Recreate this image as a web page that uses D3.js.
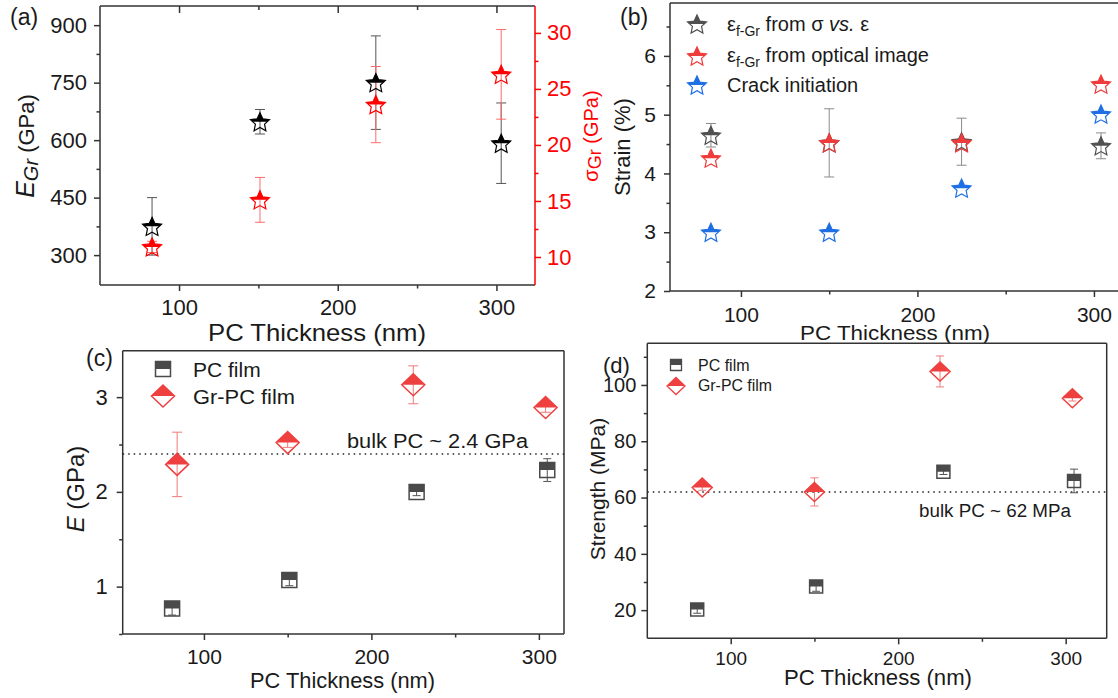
<!DOCTYPE html>
<html>
<head>
<meta charset="utf-8">
<script src="https://cdn.jsdelivr.net/npm/d3@7"></script>
<style>
  body { margin: 0; background: #fff; }
  svg { display: block; font-family: "Liberation Sans", Arial, sans-serif; }
</style>
</head>
<body>
<svg id="fig" width="1118" height="698"></svg>
<script>
// ---- data ----
// (a) graphene modulus / strength vs PC thickness
var thickA = [83, 151, 224, 303];
var eGr = [375, 648, 750, 592];
var eGrErr = [75, 32, 122, 105];
var sigmaGr = [10.9, 15.1, 23.6, 26.3];
var sigmaGrErr = [0.5, 2.0, 3.4, 4.0];

// (b) strain
var thickB = [83, 150, 225, 304];
var strainSigma = [4.65, 4.52, 4.54, 4.47];
var strainSigmaErr = [0.2, 0.58, 0.4, 0.22];
var strainOptical = [4.26, 4.52, 4.52, 5.52];
var crackInit = [3.0, 3.0, 3.75, 5.01];

// (c) modulus of films
var thickPC = [81, 151, 227, 305];
var thickGr = [84, 150, 225, 304];
var pcModulus = [0.77, 1.07, 2.0, 2.23];
var pcModulusErr = [0.07, 0.06, 0.04, 0.12];
var grModulus = [2.29, 2.52, 3.13, 2.89];
var grModulusErr = [0.34, 0.05, 0.2, 0.05];
var bulkModulus = 2.4;

// (d) strength of films
var thickPCd = [80, 151, 227, 305];
var thickGrd = [83, 150, 225, 304];
var pcStrength = [20.2, 28.4, 69.2, 65.9];
var pcStrengthErr = [1.3, 1.7, 1.0, 4.2];
var grStrength = [63.6, 62.0, 104.8, 95.3];
var grStrengthErr = [1.0, 5.0, 5.5, 1.0];
var bulkStrength = 62;

var frameColor = "#333";
var textColor = "#1a1a1a";

var svg = d3.select("#fig");
var defs = svg.append("defs");
// clip for the filled upper half of a marker (in marker local coords)
defs.append("clipPath").attr("id", "tophalf")
  .append("rect").attr("x", -40).attr("y", -40).attr("width", 80).attr("height", 40);

function starPath(R) {
  var pts = [];
  var off = R * 0.095; // center the bbox
  for (var i = 0; i < 10; i++) {
    var a = -Math.PI / 2 + i * Math.PI / 5;
    var rr = (i % 2) ? R * 0.48 : R;
    pts.push([rr * Math.cos(a), rr * Math.sin(a) + off]);
  }
  return "M" + pts.join("L") + "Z";
}
function squarePath(s) {
  return "M" + (-s) + "," + (-s) + "H" + s + "V" + s + "H" + (-s) + "Z";
}
function diamondPath(w, h) {
  return "M0," + (-h) + "L" + w + ",0L0," + h + "L" + (-w) + ",0Z";
}

function halfMarker(g, d, cx, cy, color, sw) {
  var m = g.append("g").attr("transform", "translate(" + cx + "," + cy + ")");
  m.append("path").attr("d", d).attr("fill", color).attr("clip-path", "url(#tophalf)");
  m.append("path").attr("d", d).attr("fill", "none").attr("stroke", color).attr("stroke-width", sw);
}

function errBars(g, xs, ys, es, x, y, color, cap) {
  xs.forEach(function(xv, i) {
    if (!es[i]) return;
    var cx = x(xv), y1 = y(ys[i] - es[i]), y2 = y(ys[i] + es[i]);
    g.append("line").attr("x1", cx).attr("x2", cx).attr("y1", y1).attr("y2", y2)
      .attr("stroke", color).attr("stroke-width", 1);
    [y1, y2].forEach(function(yy) {
      g.append("line").attr("x1", cx - cap).attr("x2", cx + cap).attr("y1", yy).attr("y2", yy)
        .attr("stroke", color).attr("stroke-width", 1);
    });
  });
}

function styleAxis(sel, color, fs) {
  sel.select(".domain").remove();
  sel.selectAll(".tick line").attr("stroke", color).attr("stroke-width", 1.5);
  sel.selectAll(".tick text").attr("fill", color === frameColor ? textColor : color)
    .attr("font-size", fs).attr("font-family", "Liberation Sans, Arial, sans-serif");
}

// generic panel: frame, bottom + left axes with minor ticks
function makePanel(p) {
  var x = d3.scaleLinear().domain(p.xd).range([p.l, p.r]);
  var y = d3.scaleLinear().domain(p.yd).range([p.b, p.t]);
  var g = svg.append("g");

  var xa = g.append("g").attr("transform", "translate(0," + p.b + ")")
    .call(d3.axisBottom(x).tickValues(p.xt).tickSize(6).tickPadding(p.xpad).tickFormat(d3.format("d")));
  styleAxis(xa, frameColor, p.xfs);
  var xm = g.append("g").attr("transform", "translate(0," + p.b + ")")
    .call(d3.axisBottom(x).tickValues(p.xm).tickSize(3.5).tickFormat(""));
  styleAxis(xm, frameColor, p.xfs);

  var ya = g.append("g").attr("transform", "translate(" + p.l + ",0)")
    .call(d3.axisLeft(y).tickValues(p.yt).tickSize(6).tickPadding(p.ypad).tickFormat(d3.format("d")));
  styleAxis(ya, frameColor, p.yfs);
  var ym = g.append("g").attr("transform", "translate(" + p.l + ",0)")
    .call(d3.axisLeft(y).tickValues(p.ym).tickSize(3.5).tickFormat(""));
  styleAxis(ym, frameColor, p.yfs);

  // frame
  g.append("line").attr("x1", p.l).attr("x2", p.r).attr("y1", p.t).attr("y2", p.t).attr("stroke", frameColor).attr("stroke-width", 1.5);
  g.append("line").attr("x1", p.l).attr("x2", p.r).attr("y1", p.b).attr("y2", p.b).attr("stroke", frameColor).attr("stroke-width", 1.5);
  g.append("line").attr("x1", p.l).attr("x2", p.l).attr("y1", p.t).attr("y2", p.b).attr("stroke", frameColor).attr("stroke-width", 1.5);
  g.append("line").attr("x1", p.r).attr("x2", p.r).attr("y1", p.t).attr("y2", p.b)
    .attr("stroke", p.rightColor || frameColor).attr("stroke-width", 1.5);
  return { g: g, x: x, y: y };
}

function addText(g, txt, x, y, fs, opts) {
  opts = opts || {};
  var t = g.append("text").attr("x", x).attr("y", y).attr("font-size", fs)
    .attr("fill", opts.fill || textColor).attr("text-anchor", opts.anchor || "start").text(txt);
  if (opts.len) t.attr("textLength", opts.len).attr("lengthAdjust", "spacingAndGlyphs");
  return t;
}

// ================= (a) =================
var A = makePanel({ l: 100, r: 535, t: 6, b: 285, xd: [50.2, 324.3], yd: [222, 950],
  xt: [100, 200, 300], xm: [150, 250], yt: [300, 450, 600, 750, 900], ym: [375, 525, 675, 825],
  xpad: 8, ypad: 7, xfs: 22, yfs: 22, rightColor: "#ff0000" });
// top inward ticks
var aTop = A.g.append("g").attr("transform", "translate(0,6)")
  .call(d3.axisBottom(A.x).tickValues([100, 200, 300]).tickSize(7).tickFormat(""));
styleAxis(aTop, frameColor, 0);
var aTopM = A.g.append("g").attr("transform", "translate(0,6)")
  .call(d3.axisBottom(A.x).tickValues([150, 250]).tickSize(4).tickFormat(""));
styleAxis(aTopM, frameColor, 0);
// right red axis
var yR = d3.scaleLinear().domain([7.5, 32.4]).range([285, 6]);
var aR = A.g.append("g").attr("transform", "translate(535,0)")
  .call(d3.axisRight(yR).tickValues([10, 15, 20, 25, 30]).tickSize(6).tickPadding(6));
styleAxis(aR, "#ff0000", 22);
var aRm = A.g.append("g").attr("transform", "translate(535,0)")
  .call(d3.axisRight(yR).tickValues([12.5, 17.5, 22.5, 27.5]).tickSize(3.5).tickFormat(""));
styleAxis(aRm, "#ff0000", 22);

errBars(A.g, thickA, eGr, eGrErr, A.x, A.y, "#555", 5);
errBars(A.g, thickA, sigmaGr, sigmaGrErr, A.x, yR, "#ff6a6a", 5);
thickA.forEach(function(t, i) { halfMarker(A.g, starPath(10), A.x(t), A.y(eGr[i]), "#000", 1.2); });
thickA.forEach(function(t, i) { halfMarker(A.g, starPath(10), A.x(t), yR(sigmaGr[i]), "#ff0000", 1.2); });

addText(svg, "(a)", 10, 25, 23);
addText(svg, "PC Thickness (nm)", 317, 341, 24, { anchor: "middle", len: 218 });
var aYl = svg.append("text").attr("transform", "translate(34,146) rotate(-90)")
  .attr("text-anchor", "middle").attr("font-size", 22).attr("fill", textColor);
aYl.append("tspan").attr("font-style", "italic").attr("font-size", 25).text("E");
aYl.append("tspan").attr("font-style", "italic").attr("font-size", 20).attr("dy", 4).text("Gr");
aYl.append("tspan").attr("dy", -4).text(" (GPa)");
var aYr = svg.append("text").attr("transform", "translate(598,136) rotate(-90)")
  .attr("text-anchor", "middle").attr("font-size", 20).attr("fill", "#ff0000");
aYr.append("tspan").text("σ");
aYr.append("tspan").attr("font-size", 18).attr("dy", 3).text("Gr");
aYr.append("tspan").attr("dy", -3).text(" (GPa)");

// ================= (b) =================
var grey = "#505050", redB = "#ef3b3b", blueB = "#1f6fe3";
var B = makePanel({ l: 670, r: 1125, t: 3, b: 291, xd: [59.8, 317.6], yd: [2, 6.9],
  xt: [100, 200, 300], xm: [150, 250], yt: [2, 3, 4, 5, 6], ym: [2.5, 3.5, 4.5, 5.5, 6.5],
  xpad: 10, ypad: 8, xfs: 21, yfs: 21 });
errBars(B.g, thickB, strainSigma, strainSigmaErr, B.x, B.y, "#8a8a8a", 5);
thickB.forEach(function(t, i) { halfMarker(B.g, starPath(10), B.x(t), B.y(strainSigma[i]), grey, 1.2); });
thickB.forEach(function(t, i) { halfMarker(B.g, starPath(10), B.x(t), B.y(strainOptical[i]), redB, 1.2); });
thickB.forEach(function(t, i) { halfMarker(B.g, starPath(10), B.x(t), B.y(crackInit[i]), blueB, 1.2); });

// legend (b)
var legB = svg.append("g");
[[grey, 24], [redB, 56], [blueB, 85]].forEach(function(d) { halfMarker(legB, starPath(10), 697, d[1], d[0], 1.2); });
var l1 = legB.append("text").attr("x", 727).attr("y", 31).attr("font-size", 20).attr("fill", textColor);
l1.append("tspan").text("ε");
l1.append("tspan").attr("font-size", 14).attr("dy", 5).text("f-Gr");
l1.append("tspan").attr("dy", -5).text(" from σ ");
l1.append("tspan").attr("font-style", "italic").text("vs.");
l1.append("tspan").text(" ε");
var l2 = legB.append("text").attr("x", 727).attr("y", 62).attr("font-size", 20).attr("fill", textColor);
l2.append("tspan").text("ε");
l2.append("tspan").attr("font-size", 14).attr("dy", 5).text("f-Gr");
l2.append("tspan").attr("dy", -5).text(" from optical image");
addText(legB, "Crack initiation", 727, 92, 20);

addText(svg, "(b)", 620, 25, 23);
addText(svg, "PC Thickness (nm)", 895, 340, 21, { anchor: "middle", len: 190 });
svg.append("text").attr("transform", "translate(630,147) rotate(-90)")
  .attr("text-anchor", "middle").attr("font-size", 22).attr("fill", textColor).text("Strain (%)");

// ================= (c) =================
var greyC = "#4a4a4a", redC = "#ef4040";
var C = makePanel({ l: 122.7, r: 564, t: 350.7, b: 634, xd: [51.5, 315], yd: [0.5, 3.49],
  xt: [100, 200, 300], xm: [150, 250], yt: [1, 2, 3], ym: [0.5, 1.5, 2.5],
  xpad: 9, ypad: 9, xfs: 21, yfs: 22 });
C.g.append("line").attr("x1", C.x.range()[0]).attr("x2", C.x.range()[1])
  .attr("y1", C.y(bulkModulus)).attr("y2", C.y(bulkModulus))
  .attr("stroke", "#222").attr("stroke-width", 1.5).attr("stroke-dasharray", "1.5,4");
errBars(C.g, thickPC, pcModulus, pcModulusErr, C.x, C.y, "#555", 4);
errBars(C.g, thickGr, grModulus, grModulusErr, C.x, C.y, "#f27a7a", 5);
thickPC.forEach(function(t, i) { halfMarker(C.g, squarePath(7.5), C.x(t), C.y(pcModulus[i]), greyC, 1.5); });
thickGr.forEach(function(t, i) { halfMarker(C.g, diamondPath(11.5, 11), C.x(t), C.y(grModulus[i]), redC, 1.5); });

halfMarker(svg, squarePath(7.5), 163, 369, greyC, 1.5);
halfMarker(svg, diamondPath(11.5, 11), 163, 396, redC, 1.5);
addText(svg, "PC film", 193, 377, 21);
addText(svg, "Gr-PC film", 193, 404, 21, { len: 102 });
addText(svg, "bulk PC ~ 2.4 GPa", 347, 448, 20, { len: 181 });
addText(svg, "(c)", 86, 366, 23);
addText(svg, "PC Thickness (nm)", 342.5, 688, 22, { anchor: "middle", len: 185 });
var cYl = svg.append("text").attr("transform", "translate(84,489) rotate(-90)")
  .attr("text-anchor", "middle").attr("font-size", 24).attr("fill", textColor);
cYl.append("tspan").attr("font-style", "italic").text("E");
cYl.append("tspan").text(" (GPa)");

// ================= (d) =================
var D = makePanel({ l: 647.3, r: 1106.7, t: 343.3, b: 638.3, xd: [50.2, 324.5], yd: [10, 114.8],
  xt: [100, 200, 300], xm: [150, 250], yt: [20, 40, 60, 80, 100], ym: [30, 50, 70, 90, 110],
  xpad: 7, ypad: 5, xfs: 19, yfs: 20 });
D.g.append("line").attr("x1", D.x.range()[0]).attr("x2", D.x.range()[1])
  .attr("y1", D.y(bulkStrength)).attr("y2", D.y(bulkStrength))
  .attr("stroke", "#222").attr("stroke-width", 1.5).attr("stroke-dasharray", "1.5,4");
errBars(D.g, thickPCd, pcStrength, pcStrengthErr, D.x, D.y, "#555", 4);
errBars(D.g, thickGrd, grStrength, grStrengthErr, D.x, D.y, "#f27a7a", 4);
thickPCd.forEach(function(t, i) { halfMarker(D.g, squarePath(6.5), D.x(t), D.y(pcStrength[i]), greyC, 1.5); });
thickGrd.forEach(function(t, i) { halfMarker(D.g, diamondPath(10, 9.5), D.x(t), D.y(grStrength[i]), redC, 1.5); });

halfMarker(svg, squarePath(5.5), 676, 365, greyC, 1.3);
halfMarker(svg, diamondPath(9, 8.5), 676, 386, redC, 1.3);
addText(svg, "PC film", 698, 371, 16);
addText(svg, "Gr-PC film", 698, 391, 16, { len: 74 });
addText(svg, "bulk PC ~ 62 MPa", 919, 517, 18, { len: 152 });
addText(svg, "(d)", 603, 373, 22);
addText(svg, "PC Thickness (nm)", 878, 685, 22, { anchor: "middle", len: 188 });
svg.append("text").attr("transform", "translate(605,489) rotate(-90)")
  .attr("text-anchor", "middle").attr("font-size", 21).attr("fill", textColor).text("Strength (MPa)");
</script>
</body>
</html>
